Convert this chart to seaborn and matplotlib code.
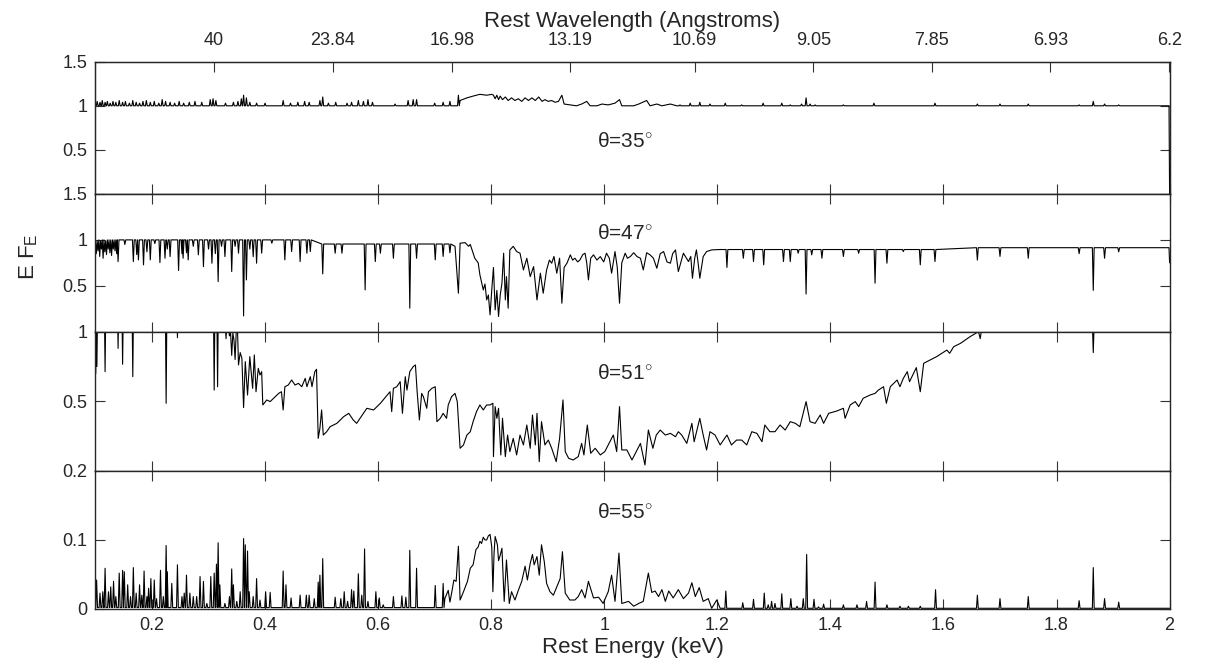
import numpy as np
import matplotlib
matplotlib.use("Agg")
import matplotlib.pyplot as plt
import seaborn as sns
import pandas as pd

# ---------------- data ----------------
energy_ticks = [0.2, 0.4, 0.6, 0.8, 1.0, 1.2, 1.4, 1.6, 1.8, 2.0]
energy_labels = ["0.2", "0.4", "0.6", "0.8", "1", "1.2", "1.4", "1.6", "1.8", "2"]
wave_labels = ["40", "23.84", "16.98", "13.19", "10.69", "9.05", "7.85", "6.93", "6.2"]
panel_titles = ["θ=35", "θ=47", "θ=51", "θ=55"]

# ---- panel 1 (theta = 35 deg) ----
p1_base = 1.0
p1_lineE_a = [0.103, 0.108, 0.112, 0.117, 0.121, 0.126, 0.131, 0.136, 0.142, 0.148, 0.153, 0.160,
              0.166, 0.172, 0.178, 0.184, 0.190, 0.197, 0.204, 0.212, 0.218, 0.224, 0.232, 0.240,
              0.248, 0.256, 0.266, 0.276, 0.288, 0.303, 0.308, 0.313, 0.330, 0.344, 0.352, 0.358,
              0.362, 0.367, 0.373, 0.385, 0.400, 0.432, 0.445, 0.458, 0.470, 0.478, 0.497, 0.502,
              0.512, 0.525, 0.545, 0.553, 0.565, 0.574, 0.582, 0.590, 0.630, 0.653, 0.662, 0.668,
              0.700, 0.715, 0.727, 0.742]
p1_lineF_a = [1.05, 1.04, 1.06, 1.04, 1.05, 1.03, 1.05, 1.04, 1.06, 1.04, 1.05, 1.03,
              1.06, 1.04, 1.03, 1.05, 1.06, 1.04, 1.05, 1.03, 1.07, 1.05, 1.04, 1.03,
              1.05, 1.03, 1.04, 1.05, 1.04, 1.07, 1.08, 1.06, 1.03, 1.04, 1.05, 1.08,
              1.12, 1.09, 1.04, 1.03, 1.03, 1.06, 1.03, 1.04, 1.05, 1.04, 1.06, 1.10,
              1.03, 1.04, 1.03, 1.04, 1.06, 1.05, 1.07, 1.04, 1.02, 1.06, 1.07, 1.07,
              1.03, 1.04, 1.05, 1.12]
p1_E_b = [0.745, 0.757, 0.768, 0.780, 0.792, 0.801, 0.804, 0.807, 0.810, 0.813, 0.816, 0.820,
          0.825, 0.830, 0.836, 0.842, 0.848, 0.854, 0.860, 0.866, 0.872, 0.878, 0.884, 0.890,
          0.895, 0.901, 0.907, 0.913, 0.919, 0.925, 0.929, 0.940, 0.951, 0.960, 0.969, 0.975,
          0.987, 0.996, 1.007, 1.019, 1.027, 1.031, 1.052, 1.061, 1.075, 1.081, 1.093, 1.102,
          1.117, 1.128]
p1_F_b = [1.06, 1.09, 1.11, 1.13, 1.12, 1.13, 1.12, 1.08, 1.12, 1.07, 1.11, 1.07,
          1.10, 1.06, 1.09, 1.06, 1.08, 1.05, 1.09, 1.06, 1.09, 1.06, 1.10, 1.05,
          1.07, 1.05, 1.06, 1.04, 1.05, 1.12, 1.02, 1.01, 1.00, 1.02, 1.05, 1.00,
          1.00, 1.02, 1.01, 1.03, 1.07, 1.00, 1.00, 1.02, 1.06, 1.00, 1.02, 1.00,
          1.02, 1.00]
p1_lineE_c = [1.134, 1.152, 1.169, 1.187, 1.214, 1.243, 1.281, 1.314, 1.329, 1.349, 1.357, 1.364,
              1.373, 1.423, 1.477, 1.585, 1.660, 1.700, 1.750, 1.840, 1.865, 1.885, 1.910]
p1_lineF_c = [1.01, 1.03, 1.04, 1.02, 1.03, 1.01, 1.03, 1.03, 1.01, 1.02, 1.09, 1.02,
              1.01, 1.01, 1.03, 1.03, 1.02, 1.02, 1.02, 1.01, 1.05, 1.02, 1.01]
p1_E_end = [1.999, 2.0]
p1_F_end = [1.0, 0.0]

# ---- panel 2 (theta = 47 deg) ----
p2_E_a = [0.100, 0.1015, 0.103, 0.1045, 0.106, 0.1075, 0.109, 0.1105, 0.112, 0.1135, 0.115,
          0.1165, 0.118, 0.1195, 0.121, 0.1225, 0.124, 0.1255, 0.127, 0.1285, 0.130, 0.1315,
          0.133, 0.1345, 0.136, 0.1375, 0.139]
p2_F_a = [0.98, 0.85, 0.99, 0.88, 1.00, 0.82, 0.99, 0.90, 1.00, 0.80, 1.00,
          0.87, 0.99, 0.84, 1.00, 0.90, 1.00, 0.86, 1.00, 0.83, 1.00, 0.90,
          1.00, 0.88, 1.00, 0.85, 1.00]
p2_base_b = 1.0
p2_lineE_b = [0.140, 0.152, 0.167, 0.173, 0.176, 0.185, 0.191, 0.197, 0.205, 0.214, 0.223, 0.227,
              0.232, 0.247, 0.253, 0.255, 0.261, 0.264, 0.273, 0.282, 0.291, 0.300, 0.306, 0.312,
              0.317, 0.323, 0.329, 0.341, 0.347, 0.353, 0.362, 0.367, 0.373, 0.379, 0.385, 0.394,
              0.412, 0.435, 0.447, 0.462, 0.474, 0.480]
p2_lineF_b = [0.764, 0.95, 0.764, 0.84, 0.782, 0.728, 0.87, 0.782, 0.96, 0.753, 0.80, 0.90,
              0.818, 0.666, 0.85, 0.80, 0.86, 0.782, 0.93, 0.837, 0.709, 0.90, 0.746, 0.85,
              0.546, 0.93, 0.818, 0.655, 0.93, 0.855, 0.172, 0.564, 0.90, 0.818, 0.746, 0.855,
              0.964, 0.782, 0.873, 0.764, 0.855, 0.873]
p2_base_c = 0.955
p2_lineE_c = [0.502, 0.524, 0.536, 0.577, 0.595, 0.604, 0.627, 0.656, 0.668, 0.701, 0.715, 0.727]
p2_lineF_c = [0.63, 0.855, 0.855, 0.455, 0.764, 0.855, 0.80, 0.256, 0.80, 0.782, 0.82, 0.86]
p2_E_d = [0.736, 0.742, 0.745, 0.754, 0.760, 0.763, 0.771, 0.777, 0.780, 0.786, 0.789, 0.792,
          0.795, 0.798, 0.801, 0.804, 0.807, 0.810, 0.813, 0.816, 0.819, 0.822, 0.825, 0.827,
          0.830, 0.833, 0.839, 0.845, 0.851, 0.857, 0.863, 0.869, 0.875, 0.881, 0.887, 0.892,
          0.898, 0.903, 0.907, 0.911, 0.916, 0.921, 0.925, 0.929, 0.934, 0.940, 0.944, 0.948,
          0.953, 0.957, 0.962, 0.966, 0.969, 0.972, 0.976, 0.981, 0.987, 0.993, 0.999, 1.004,
          1.009, 1.013, 1.019, 1.023, 1.027, 1.031, 1.037, 1.041, 1.046, 1.052, 1.058, 1.064,
          1.069, 1.075, 1.081, 1.087, 1.093, 1.099, 1.105, 1.111, 1.117, 1.121, 1.126, 1.131,
          1.140, 1.149, 1.153, 1.156, 1.160, 1.163, 1.166, 1.169, 1.172, 1.175, 1.181, 1.190,
          1.205]
p2_F_d = [0.93, 0.419, 0.964, 0.97, 0.93, 0.95, 0.80, 0.75, 0.62, 0.455, 0.52, 0.346,
          0.40, 0.183, 0.455, 0.70, 0.237, 0.45, 0.165, 0.40, 0.528, 0.855, 0.346, 0.60,
          0.256, 0.89, 0.93, 0.873, 0.855, 0.673, 0.80, 0.60, 0.709, 0.346, 0.637, 0.419,
          0.673, 0.78, 0.746, 0.82, 0.637, 0.80, 0.31, 0.70, 0.746, 0.837, 0.78, 0.80,
          0.76, 0.782, 0.84, 0.855, 0.75, 0.564, 0.80, 0.837, 0.78, 0.818, 0.76, 0.855,
          0.80, 0.637, 0.873, 0.70, 0.31, 0.75, 0.855, 0.80, 0.818, 0.86, 0.818, 0.80,
          0.673, 0.86, 0.837, 0.80, 0.691, 0.85, 0.873, 0.76, 0.746, 0.85, 0.891, 0.655,
          0.855, 0.764, 0.82, 0.582, 0.80, 0.891, 0.75, 0.582, 0.70, 0.818, 0.873, 0.891,
          0.895]
p2_base_e = 0.895
p2_lineE_e = [1.217, 1.246, 1.264, 1.282, 1.317, 1.329, 1.343, 1.357, 1.367, 1.385, 1.423, 1.450,
              1.479, 1.500, 1.529, 1.559, 1.585]
p2_lineF_e = [0.70, 0.80, 0.764, 0.728, 0.764, 0.764, 0.855, 0.41, 0.837, 0.80, 0.82, 0.855,
              0.528, 0.746, 0.873, 0.728, 0.764]
p2_base_f = 0.915
p2_lineE_f = [1.660, 1.700, 1.750, 1.840, 1.865, 1.885, 1.910]
p2_lineF_f = [0.78, 0.82, 0.80, 0.85, 0.45, 0.80, 0.87]
p2_E_end = [1.999, 2.0]
p2_F_end = [0.915, 0.75]

# ---- panel 3 (theta = 51 deg) ----
p3_base_a = 1.3
p3_lineE_a = [0.1005, 0.1025, 0.117, 0.140, 0.148, 0.166, 0.225, 0.245, 0.310, 0.316]
p3_lineF_a = [0.70, 0.75, 0.713, 0.88, 0.766, 0.677, 0.486, 0.957, 0.581, 0.605]
p3_E_b = [0.326, 0.331, 0.333, 0.337, 0.339, 0.341, 0.343, 0.345, 0.347, 0.349, 0.351, 0.353,
          0.356, 0.359, 0.362, 0.365, 0.369, 0.373, 0.378, 0.381, 0.384, 0.388, 0.391, 0.394,
          0.396, 0.403, 0.409, 0.418, 0.424, 0.429, 0.432, 0.435, 0.441, 0.447, 0.453, 0.459,
          0.465, 0.471, 0.474, 0.480, 0.483, 0.488, 0.491, 0.494, 0.497, 0.500, 0.503, 0.509,
          0.515, 0.527, 0.539, 0.548, 0.556, 0.562, 0.568, 0.580, 0.592, 0.604, 0.621, 0.624,
          0.627, 0.633, 0.639, 0.643, 0.648, 0.651, 0.656, 0.662, 0.666, 0.669, 0.673, 0.677,
          0.680, 0.686, 0.689, 0.695, 0.701, 0.704, 0.710, 0.715, 0.721, 0.724, 0.730, 0.736,
          0.740, 0.745, 0.751, 0.757, 0.763, 0.768, 0.774, 0.780, 0.786, 0.792, 0.798, 0.803,
          0.804, 0.807, 0.810, 0.813, 0.817, 0.820, 0.825, 0.829, 0.833, 0.839, 0.845, 0.851,
          0.857, 0.863, 0.869, 0.873, 0.878, 0.881, 0.885, 0.889, 0.895, 0.901, 0.907, 0.915,
          0.921, 0.927, 0.931, 0.937, 0.945, 0.954, 0.960, 0.964, 0.970, 0.976, 0.984, 0.993,
          1.001, 1.010, 1.016, 1.022, 1.027, 1.031, 1.040, 1.049, 1.058, 1.064, 1.072, 1.078,
          1.086, 1.092, 1.099, 1.108, 1.117, 1.126, 1.131, 1.137, 1.146, 1.155, 1.159, 1.169,
          1.175, 1.181, 1.187, 1.196, 1.205, 1.217, 1.225, 1.234, 1.243, 1.252, 1.261, 1.270,
          1.279, 1.284, 1.293, 1.302, 1.311, 1.320, 1.329, 1.338, 1.346, 1.357, 1.364, 1.373,
          1.382, 1.388, 1.397, 1.411, 1.423, 1.426, 1.435, 1.444, 1.450, 1.458, 1.470, 1.479,
          1.485, 1.494, 1.499, 1.506, 1.518, 1.523, 1.529, 1.536, 1.540, 1.552, 1.559, 1.565,
          1.582, 1.588, 1.606, 1.611, 1.618, 1.630, 1.647, 1.662, 1.665, 1.668, 1.700, 1.750,
          1.800, 1.862, 1.865, 1.868, 1.930, 2.000]
p3_F_b = [1.30, 0.95, 1.10, 0.97, 0.99, 0.83, 0.99, 0.94, 0.80, 1.00, 1.05, 0.761,
          0.85, 0.809, 0.455, 0.785, 0.545, 0.821, 0.593, 0.833, 0.569, 0.737, 0.689, 0.713,
          0.474, 0.510, 0.498, 0.534, 0.557, 0.569, 0.438, 0.605, 0.617, 0.653, 0.617, 0.629,
          0.605, 0.665, 0.605, 0.677, 0.605, 0.713, 0.730, 0.234, 0.306, 0.438, 0.258, 0.282,
          0.318, 0.342, 0.390, 0.414, 0.366, 0.342, 0.378, 0.450, 0.438, 0.486, 0.569, 0.426,
          0.593, 0.605, 0.641, 0.414, 0.677, 0.581, 0.713, 0.749, 0.761, 0.569, 0.366, 0.557,
          0.534, 0.450, 0.569, 0.593, 0.605, 0.354, 0.378, 0.414, 0.378, 0.474, 0.534, 0.557,
          0.498, 0.163, 0.187, 0.258, 0.282, 0.354, 0.426, 0.474, 0.438, 0.474, 0.474, 0.486,
          0.103, 0.462, 0.378, 0.450, 0.115, 0.378, 0.103, 0.258, 0.139, 0.234, 0.115, 0.258,
          0.187, 0.330, 0.163, 0.402, 0.187, 0.414, 0.067, 0.354, 0.187, 0.222, 0.163, 0.067,
          0.234, 0.510, 0.139, 0.091, 0.079, 0.103, 0.198, 0.115, 0.330, 0.127, 0.163, 0.115,
          0.139, 0.210, 0.258, 0.139, 0.462, 0.151, 0.151, 0.079, 0.151, 0.198, 0.043, 0.294,
          0.163, 0.258, 0.294, 0.258, 0.270, 0.246, 0.282, 0.258, 0.198, 0.342, 0.210, 0.378,
          0.258, 0.151, 0.282, 0.258, 0.187, 0.258, 0.187, 0.222, 0.222, 0.187, 0.282, 0.270,
          0.210, 0.330, 0.282, 0.282, 0.330, 0.294, 0.354, 0.342, 0.318, 0.498, 0.354, 0.342,
          0.402, 0.342, 0.414, 0.430, 0.450, 0.378, 0.474, 0.498, 0.462, 0.522, 0.545, 0.557,
          0.581, 0.605, 0.486, 0.605, 0.653, 0.605, 0.665, 0.713, 0.641, 0.742, 0.569, 0.773,
          0.809, 0.821, 0.868, 0.845, 0.892, 0.916, 0.964, 1.000, 0.950, 1.030, 1.080, 1.140,
          1.200, 1.250, 0.850, 1.250, 1.320, 1.400]

# ---- panel 4 (theta = 55 deg) ----
p4_base_a = 0.002
p4_lineE_a = [0.102, 0.108, 0.113, 0.117, 0.123, 0.127, 0.132, 0.136, 0.142, 0.148, 0.151, 0.157,
              0.162, 0.167, 0.172, 0.178, 0.182, 0.186, 0.191, 0.194, 0.198, 0.204, 0.208, 0.215,
              0.220, 0.225, 0.227, 0.235, 0.245, 0.253, 0.257, 0.261, 0.267, 0.273, 0.279, 0.285,
              0.291, 0.297, 0.304, 0.310, 0.314, 0.317, 0.320, 0.329, 0.337, 0.341, 0.344, 0.350,
              0.356, 0.362, 0.365, 0.369, 0.372, 0.379, 0.385, 0.391, 0.401, 0.409, 0.432, 0.437,
              0.446, 0.462, 0.473, 0.478, 0.487, 0.494, 0.497, 0.502, 0.524, 0.534, 0.540, 0.546,
              0.553, 0.557, 0.565, 0.571, 0.576, 0.582, 0.596, 0.602, 0.609, 0.627, 0.642, 0.649,
              0.656, 0.668, 0.701, 0.715]
p4_lineF_a = [0.042, 0.023, 0.025, 0.059, 0.025, 0.032, 0.040, 0.018, 0.052, 0.056, 0.054, 0.035,
              0.018, 0.060, 0.023, 0.035, 0.020, 0.055, 0.018, 0.030, 0.044, 0.042, 0.015, 0.056,
              0.018, 0.092, 0.054, 0.037, 0.064, 0.018, 0.023, 0.049, 0.023, 0.018, 0.018, 0.047,
              0.040, 0.008, 0.047, 0.052, 0.065, 0.096, 0.035, 0.008, 0.018, 0.058, 0.035, 0.011,
              0.025, 0.102, 0.093, 0.084, 0.025, 0.018, 0.044, 0.013, 0.025, 0.024, 0.055, 0.035,
              0.016, 0.020, 0.020, 0.020, 0.015, 0.039, 0.049, 0.073, 0.017, 0.015, 0.025, 0.011,
              0.028, 0.026, 0.051, 0.020, 0.087, 0.011, 0.025, 0.016, 0.006, 0.018, 0.019, 0.017,
              0.085, 0.059, 0.034, 0.037]
p4_E_b = [0.718, 0.724, 0.727, 0.730, 0.734, 0.738, 0.742, 0.745, 0.751, 0.758, 0.763, 0.768,
          0.773, 0.777, 0.780, 0.783, 0.786, 0.789, 0.792, 0.795, 0.798, 0.801, 0.803, 0.805,
          0.807, 0.811, 0.813, 0.816, 0.819, 0.823, 0.827, 0.832, 0.836, 0.842, 0.848, 0.854,
          0.860, 0.864, 0.869, 0.873, 0.876, 0.881, 0.885, 0.889, 0.894, 0.898, 0.904, 0.910,
          0.916, 0.922, 0.926, 0.931, 0.939, 0.948, 0.954, 0.960, 0.966, 0.972, 0.981, 0.990,
          0.998, 1.007, 1.013, 1.019, 1.026, 1.031, 1.043, 1.052, 1.061, 1.069, 1.078, 1.084,
          1.090, 1.096, 1.102, 1.108, 1.114, 1.122, 1.131, 1.140, 1.149, 1.155, 1.161, 1.168,
          1.175, 1.184, 1.190, 1.199, 1.205]
p4_F_b = [0.015, 0.027, 0.010, 0.023, 0.042, 0.040, 0.091, 0.013, 0.025, 0.040, 0.059, 0.064,
          0.086, 0.090, 0.098, 0.095, 0.104, 0.100, 0.100, 0.106, 0.108, 0.090, 0.025, 0.080,
          0.105, 0.093, 0.070, 0.078, 0.088, 0.011, 0.071, 0.008, 0.025, 0.013, 0.027, 0.040,
          0.062, 0.042, 0.066, 0.079, 0.064, 0.076, 0.049, 0.093, 0.068, 0.037, 0.025, 0.020,
          0.032, 0.044, 0.083, 0.023, 0.013, 0.013, 0.018, 0.028, 0.016, 0.040, 0.016, 0.017,
          0.008, 0.025, 0.049, 0.011, 0.081, 0.008, 0.011, 0.004, 0.008, 0.011, 0.052, 0.024,
          0.026, 0.018, 0.028, 0.011, 0.026, 0.016, 0.028, 0.015, 0.023, 0.038, 0.018, 0.031,
          0.011, 0.015, 0.001, 0.013, 0.001]
p4_base_c = 0.001
p4_lineE_c = [1.215, 1.245, 1.264, 1.283, 1.290, 1.296, 1.302, 1.314, 1.330, 1.341, 1.352, 1.358,
              1.371, 1.379, 1.388, 1.423, 1.447, 1.464, 1.479, 1.500, 1.523, 1.538, 1.559, 1.586,
              1.660, 1.700, 1.750, 1.840, 1.865, 1.885, 1.910]
p4_lineF_c = [0.026, 0.009, 0.014, 0.023, 0.006, 0.011, 0.008, 0.022, 0.015, 0.004, 0.015, 0.079,
              0.014, 0.003, 0.007, 0.006, 0.006, 0.011, 0.039, 0.006, 0.004, 0.004, 0.004, 0.028,
              0.020, 0.015, 0.018, 0.012, 0.060, 0.015, 0.010]
p4_E_end = [2.0]
p4_F_end = [0.001]

ylims = [(0, 1.5), (0, 1.5), (0, 1.0), (0, 0.2)]
yticks = [[0.5, 1, 1.5], [0.5, 1, 1.5], [0.5, 1], [0, 0.1, 0.2]]
yticklabels = [["0.5", "1", "1.5"], ["0.5", "1", "1.5"], ["0.5", "1"], ["0", "0.1", "0.2"]]
label_pos = [(0.987, 0.60), (0.987, 1.07), (0.987, 0.70), (0.987, 0.140)]


def spikes(E, F, base, hw=0.0016):
    xs, ys = [], []
    for e, f in zip(E, F):
        xs += [e - hw, e, e + hw]
        ys += [base, f, base]
    return xs, ys


def join(*segs):
    xs, ys = [], []
    for sx, sy in segs:
        xs += list(sx)
        ys += list(sy)
    return pd.DataFrame({"E": xs, "F": ys})


p1 = join(([0.1], [1.0]), spikes(p1_lineE_a, p1_lineF_a, p1_base), (p1_E_b, p1_F_b),
          spikes(p1_lineE_c, p1_lineF_c, p1_base), (p1_E_end, p1_F_end))
p2 = join((p2_E_a, p2_F_a), spikes(p2_lineE_b, p2_lineF_b, p2_base_b),
          spikes(p2_lineE_c, p2_lineF_c, p2_base_c), (p2_E_d, p2_F_d),
          spikes(p2_lineE_e, p2_lineF_e, p2_base_e), spikes(p2_lineE_f, p2_lineF_f, p2_base_f),
          (p2_E_end, p2_F_end))
p3 = join(([0.1], [1.3]), spikes(p3_lineE_a, p3_lineF_a, p3_base_a), (p3_E_b, p3_F_b))
p4 = join(([0.1], [0.002]), spikes(p4_lineE_a, p4_lineF_a, p4_base_a), (p4_E_b, p4_F_b),
          spikes(p4_lineE_c, p4_lineF_c, p4_base_c), (p4_E_end, p4_F_end))
panels = [p1, p2, p3, p4]

# ---------------- drawing ----------------
sns.set_style("ticks")
plt.rcParams["font.family"] = ["Liberation Sans", "DejaVu Sans"]
plt.rcParams["mathtext.fontset"] = "custom"
plt.rcParams["mathtext.rm"] = "Liberation Sans"
plt.rcParams["mathtext.it"] = "Liberation Sans:italic"

fig = plt.figure(figsize=(12.1, 6.67), dpi=100)
gs = fig.add_gridspec(4, 1, left=0.0789, right=0.9666, top=0.9075, bottom=0.087,
                      hspace=0, height_ratios=[132.3, 137.7, 139.3, 138])
axes = [fig.add_subplot(gs[i]) for i in range(4)]

for i, (ax, df) in enumerate(zip(axes, panels)):
    sns.lineplot(data=df, x="E", y="F", ax=ax, color="black", linewidth=0.8,
                 sort=False, estimator=None, legend=False)
    ax.set_xlim(0.1, 2.0)
    ax.set_ylim(*ylims[i])
    ax.set_xticks(energy_ticks)
    ax.set_yticks(yticks[i])
    ax.set_yticklabels(yticklabels[i])
    ax.set_xlabel("")
    ax.set_ylabel("")
    ax.tick_params(direction="in", length=7.5, width=0.8, top=(i > 0), right=True,
                   labelsize=13, color="#333333", pad=6)
    if i < 3:
        ax.tick_params(labelbottom=False)
    else:
        ax.set_xticklabels(energy_labels)
    for sp in ax.spines.values():
        sp.set_linewidth(1.0)
    ax.text(label_pos[i][0], label_pos[i][1], panel_titles[i] + r"$^{\circ}$",
            fontsize=15, ha="left", va="center")

axes[3].set_xlabel("Rest Energy (keV)", fontsize=16, labelpad=2)

top = axes[0].twiny()
top.set_xlim(0.1, 2.0)
top.set_xticks([12.398 / float(w) for w in wave_labels])
top.set_xticklabels(wave_labels)
top.tick_params(direction="in", length=7.5, width=0.8, labelsize=13, color="#333333", pad=9)
top.set_xlabel("Rest Wavelength (Angstroms)", fontsize=16, labelpad=4)

fig.text(0.024, 0.615, r"E F$_\mathregular{E}$", rotation=90, fontsize=16,
         ha="center", va="center")

fig.savefig("out.png", dpi=100)
